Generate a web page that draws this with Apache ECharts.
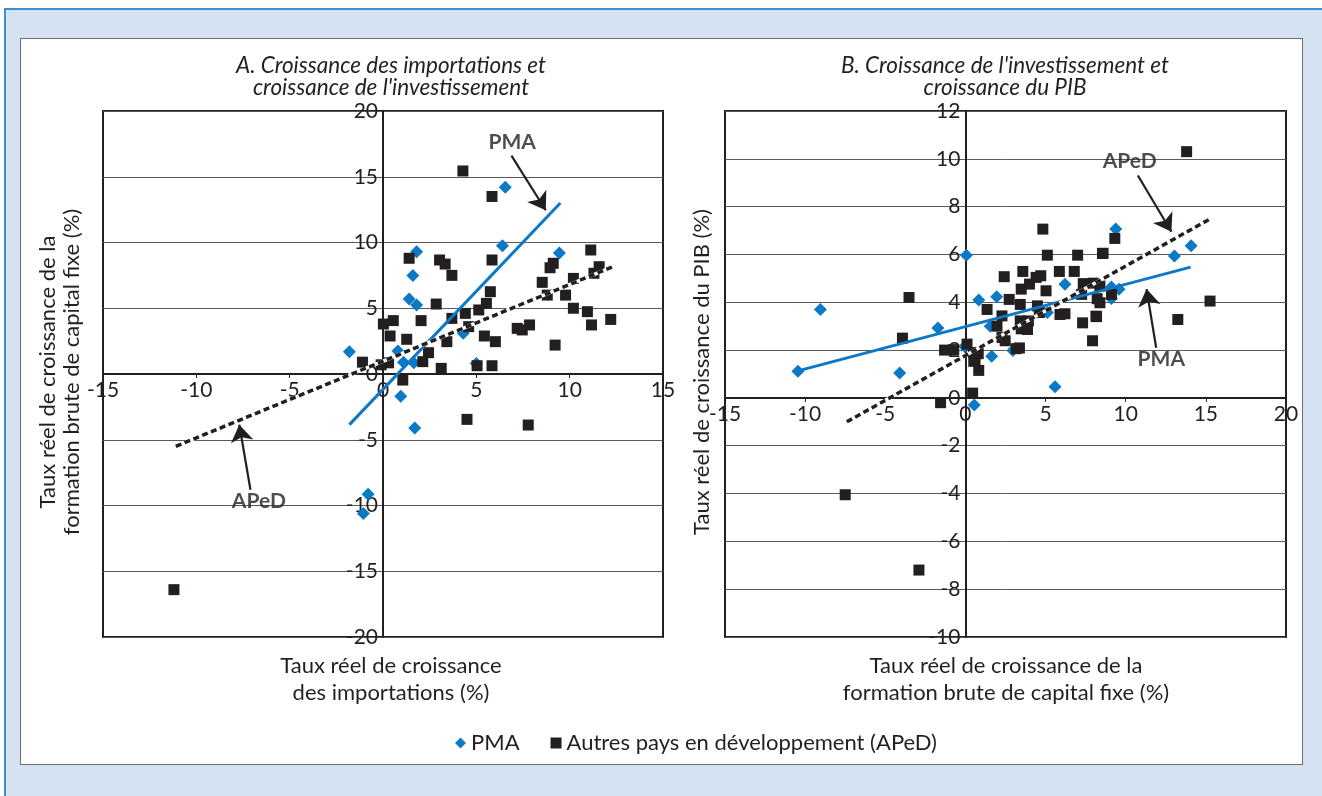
<!DOCTYPE html>
<html><head><meta charset="utf-8">
<script src="https://cdn.jsdelivr.net/npm/echarts@6/dist/echarts.min.js"></script>
<style>
html,body{margin:0;padding:0;background:#fff;width:1322px;height:796px;overflow:hidden}
#outer{position:absolute;left:4px;top:8px;width:1340px;height:820px;background:#d5e2f1;border-left:2px solid #3d8ed0;border-top:2px solid #3d8ed0}
#inner{position:absolute;left:20px;top:38px;width:1281px;height:725px;background:#fff;border:1px solid #6d6e71}
#chart{position:absolute;left:0;top:0;width:1322px;height:796px}
</style></head><body>
<div id="outer"></div><div id="inner"></div><div id="chart"></div>
<script>
// ---- Panel A : imports growth (x) vs investment growth (y)
const aPma = [[-1.8,1.7],[0.8,1.75],[1.1,0.9],[1.65,0.85],[1.8,9.3],[1.6,7.5],[1.4,5.7],[1.8,5.25],[6.4,9.75],[6.55,14.2],[9.45,9.2],[4.3,3.1],[5.0,0.8],[0.95,-1.7],[1.7,-4.1],[-0.8,-9.15],[-1.05,-10.6]];
const aAped = [[4.28,15.44],[5.84,13.5],[1.4,8.8],[3.03,8.67],[3.33,8.36],[3.69,7.5],[5.84,8.67],[11.13,9.43],[9.12,8.42],[8.95,8.08],[11.58,8.16],[11.3,7.66],[10.2,7.27],[8.53,6.97],[5.75,6.26],[8.8,6.0],[9.78,6.0],[5.54,5.37],[5.13,4.87],[10.2,5.0],[10.95,4.74],[4.41,4.61],[3.69,4.23],[2.85,5.32],[2.04,4.06],[0.55,4.06],[0.02,3.8],[4.59,3.6],[12.2,4.15],[11.17,3.73],[7.19,3.47],[7.46,3.35],[7.85,3.73],[0.38,2.89],[1.27,2.64],[3.42,2.46],[5.43,2.89],[6.02,2.46],[9.22,2.2],[2.44,1.62],[2.13,0.94],[0.3,0.85],[-0.1,0.7],[3.12,0.43],[5.04,0.63],[5.84,0.63],[1.06,-0.46],[-1.1,0.9],[4.5,-3.45],[7.78,-3.88],[-11.2,-16.4]];
const aPmaTrend = [[-1.8,-3.85],[9.5,13.0]];
const aApedTrend = [[-11.1,-5.5],[12.3,8.15]];
const aXTicks = {min:-15, max:15, interval:5};
const aYTicks = {min:-20, max:20, interval:5};

// ---- Panel B : investment growth (x) vs GDP growth (y)
const bPma = [[0.06,5.97],[-9.05,3.7],[-10.45,1.12],[-4.1,1.04],[-1.72,2.92],[0.83,4.1],[1.95,4.23],[1.55,3.0],[1.64,1.74],[-0.05,2.15],[0.55,-0.3],[2.96,1.98],[6.21,4.75],[5.11,3.57],[5.59,0.47],[9.38,7.06],[13.04,5.94],[14.08,6.36],[9.11,4.64],[9.58,4.54],[9.11,4.16]];
const bAped = [[-3.52,4.2],[-3.93,2.5],[-1.3,2.0],[0.1,2.25],[0.5,1.9],[0.8,1.85],[0.6,1.6],[0.83,1.15],[1.35,3.7],[0.45,0.2],[-1.55,-0.2],[-7.5,-4.05],[-2.9,-7.2],[4.83,7.06],[5.11,5.97],[7.0,5.97],[8.55,6.04],[2.42,5.07],[3.58,5.29],[5.86,5.29],[6.79,5.29],[4.7,5.11],[4.41,5.04],[4.0,4.76],[3.48,4.55],[5.03,4.48],[7.35,4.78],[7.97,4.8],[7.25,4.33],[2.73,4.12],[3.42,3.91],[4.49,3.85],[2.28,3.43],[4.61,3.57],[3.42,3.22],[3.93,3.22],[1.97,3.0],[3.48,2.89],[3.87,2.86],[5.9,3.49],[6.21,3.52],[7.31,3.14],[8.18,3.4],[7.93,2.39],[2.28,2.53],[2.48,2.39],[3.17,2.06],[3.37,2.09],[-0.73,2.02],[0.52,1.53],[13.8,10.3],[9.32,6.67],[8.59,6.05],[9.11,4.33],[8.39,4.68],[8.22,4.15],[8.39,3.98],[8.14,3.42],[15.26,4.05],[13.25,3.28]];
const bPmaTrend = [[-10.45,1.13],[14.05,5.47]];
const bApedTrend = [[-7.4,-1.0],[15.3,7.5]];
const bXTicks = {min:-15, max:20, interval:5};
const bYTicks = {min:-10, max:12, interval:2};

// ---- annotations (data coordinates)
const aNotes = [{name:'PMA', at:[6.92,17.6], from:[6.88,16.6], to:[8.72,12.45]}, {name:'APeD', at:[-6.65,-9.7], from:[-7.1,-8.8], to:[-7.7,-3.85]}];
const bNotes = [{name:'APeD', at:[10.25,9.9], from:[10.76,9.3], to:[12.85,6.95]}, {name:'PMA', at:[12.22,1.6], from:[11.9,2.1], to:[11.3,4.55]}];

const panelTitles = ['A. Croissance des importations et\ncroissance de l\'investissement', 'B. Croissance de l\'investissement et\ncroissance du PIB'];
const xTitles = ['Taux réel de croissance\ndes importations (%)', 'Taux réel de croissance de la\nformation brute de capital fixe (%)'];
const yTitles = ['Taux réel de croissance de la\nformation brute de capital fixe (%)', 'Taux réel de croissance du PIB (%)'];
const seriesNames = ['PMA', 'Autres pays en développement (APeD)'];

const FONT = 'Lato';
const TXT = '#231f20';
const BLUE = '#0b79c5';
const grids = [{left:103, top:111, width:560, height:526}, {left:725, top:111, width:561, height:526}];

// axes cross at zero: shift the axis (line + labels) from the grid edge to the zero position
function xAxis(i, t, yt){
  const off = -grids[i].height * (0 - yt.min) / (yt.max - yt.min);
  return {gridIndex:i, type:'value', min:t.min, max:t.max, interval:t.interval, position:'bottom', offset:off,
    axisLine:{onZero:false, lineStyle:{color:TXT, width:2}},
    axisTick:{show:true, length:4, lineStyle:{color:TXT, width:1}},
    axisLabel:{color:TXT, fontFamily:FONT, fontSize:21, margin:6},
    splitLine:{show:false}};
}
function yAxis(i, t, xt){
  const off = -grids[i].width * (0 - xt.min) / (xt.max - xt.min);
  return {gridIndex:i, type:'value', min:t.min, max:t.max, interval:t.interval, position:'left', offset:off,
    axisLine:{onZero:false, lineStyle:{color:TXT, width:2}},
    axisTick:{show:false},
    axisLabel:{color:TXT, fontFamily:FONT, fontSize:21, margin:5},
    splitLine:{show:true, lineStyle:{color:'#58595b', width:1}}};
}
function panelSeries(i, pma, aped, pmaT, apedT, notes){
  const s = [];
  s.push({type:'scatter', name:seriesNames[0], xAxisIndex:i, yAxisIndex:i, data:pma, symbol:'diamond', symbolSize:13, itemStyle:{color:BLUE, opacity:1}, z:2, silent:true});
  s.push({type:'scatter', name:seriesNames[1], xAxisIndex:i, yAxisIndex:i, data:aped, symbol:'rect', symbolSize:11, itemStyle:{color:TXT, opacity:1}, z:3, silent:true});
  s.push({type:'line', name:'pmaTrend'+i, xAxisIndex:i, yAxisIndex:i, data:pmaT, symbol:'none', lineStyle:{color:BLUE, width:3}, z:4, silent:true});
  s.push({type:'line', name:'apedTrendBg'+i, xAxisIndex:i, yAxisIndex:i, data:apedT, symbol:'none', lineStyle:{color:'#ffffff', width:3.5}, z:5, silent:true});
  s.push({type:'line', name:'apedTrend'+i, xAxisIndex:i, yAxisIndex:i, data:apedT, symbol:'none', lineStyle:{color:TXT, width:3.5, type:[6,3.5], cap:'butt'}, z:6, silent:true});
  s.push({type:'lines', name:'arrows'+i, coordinateSystem:'cartesian2d', xAxisIndex:i, yAxisIndex:i, symbol:['none','arrow'], symbolSize:[0,17], lineStyle:{color:TXT, width:2.2, opacity:1}, z:7, silent:true,
    data: notes.map(n => ({coords:[n.from, n.to]}))});
  s.push({type:'scatter', name:'notes'+i, xAxisIndex:i, yAxisIndex:i, symbolSize:0, z:8, silent:true,
    data: notes.map(n => ({value:n.at, name:n.name})),
    label:{show:true, position:'inside', formatter:'{b}', color:TXT, fontFamily:FONT, fontWeight:'bold', fontSize:21}});
  return s;
}

const chart = echarts.init(document.getElementById('chart'), null, {renderer:'canvas'});
const option = {
  animation:false,
  grid: grids.map(g => Object.assign({show:true, borderColor:TXT, borderWidth:2, backgroundColor:'transparent'}, g)),
  xAxis:[xAxis(0, aXTicks, aYTicks), xAxis(1, bXTicks, bYTicks)],
  yAxis:[yAxis(0, aYTicks, aXTicks), yAxis(1, bYTicks, bXTicks)],
  legend:{left:450, top:727, itemGap:31, itemWidth:11, itemHeight:11,
    data:[{name:seriesNames[0], icon:'diamond', itemStyle:{color:BLUE}}, {name:seriesNames[1], icon:'rect', itemStyle:{color:TXT}}],
    textStyle:{color:TXT, fontFamily:FONT, fontSize:22}, selectedMode:false},
  series: panelSeries(0, aPma, aAped, aPmaTrend, aApedTrend, aNotes).concat(panelSeries(1, bPma, bAped, bPmaTrend, bApedTrend, bNotes)),
  graphic:[
    {type:'text', x:391, y:77, style:{text:panelTitles[0], font:'italic 22.5px Lato', fill:TXT, align:'center', verticalAlign:'middle', lineHeight:22}},
    {type:'text', x:1005, y:77, style:{text:panelTitles[1], font:'italic 22.5px Lato', fill:TXT, align:'center', verticalAlign:'middle', lineHeight:22}},
    {type:'text', x:391, y:679, style:{text:xTitles[0], font:'22px Lato', fill:TXT, align:'center', verticalAlign:'middle', lineHeight:27}},
    {type:'text', x:1006, y:679, style:{text:xTitles[1], font:'22px Lato', fill:TXT, align:'center', verticalAlign:'middle', lineHeight:27}},
    {type:'text', x:60, y:372, rotation:Math.PI/2, style:{text:yTitles[0], font:'22px Lato', fill:TXT, align:'center', verticalAlign:'middle', lineHeight:24}},
    {type:'text', x:702, y:372, rotation:Math.PI/2, style:{text:yTitles[1], font:'22px Lato', fill:TXT, align:'center', verticalAlign:'middle', lineHeight:24}}
  ]
};
chart.setOption(option);
</script>
</body></html>
